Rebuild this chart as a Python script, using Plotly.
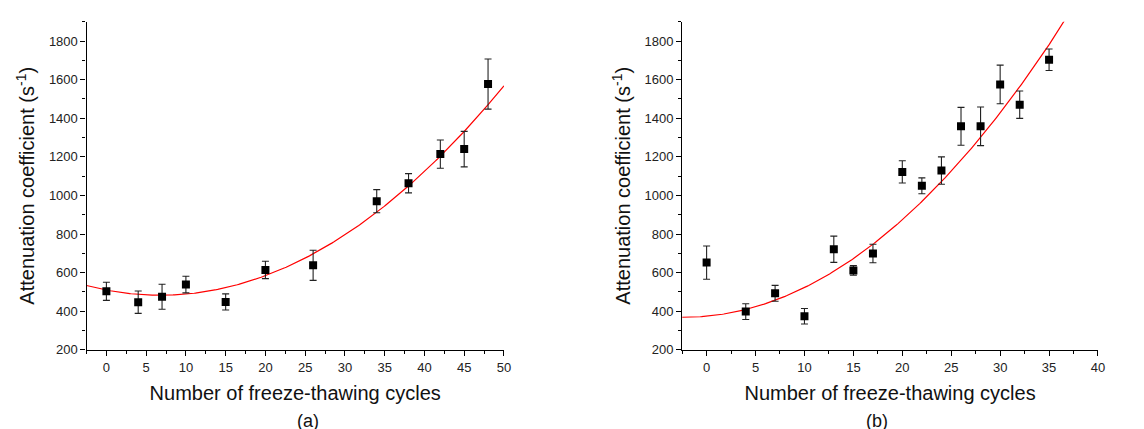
import numpy as np
import plotly.graph_objects as go
from plotly.subplots import make_subplots

# (a)
cycles_a = [0, 4, 7, 10, 15, 20, 26, 34, 38, 42, 45, 48]
atten_a = [503, 447, 475, 538, 448, 614, 638, 970, 1063, 1214, 1240, 1577]
err_a = [47, 58, 65, 43, 42, 45, 78, 60, 50, 73, 92, 130]
fit_a = [0.5816, -7.91, 509.6]   # quadratic fit (x^2, x, 1)

# (b)
cycles_b = [0, 4, 7, 10, 13, 15, 17, 20, 22, 24, 26, 28, 30, 32, 35]
atten_b = [652, 398, 493, 374, 721, 611, 699, 1122, 1050, 1129, 1358, 1358, 1575, 1470, 1703]
err_b = [86, 41, 41, 40, 68, 25, 48, 58, 41, 71, 98, 100, 100, 71, 56]
fit_b = [1.0144, 4.70, 374.0]

W, H = 1144, 429
fig = make_subplots(rows=1, cols=2)

font = "Liberation Sans, Arial, sans-serif"


def add_panel(col, xs, ys, es, coef, xmax):
    fx = np.linspace(-2.5, xmax, 300)
    fig.add_trace(go.Scatter(x=fx, y=np.polyval(coef, fx), mode="lines",
                             line=dict(color="red", width=1.2), showlegend=False),
                  row=1, col=col)
    fig.add_trace(go.Scatter(x=xs, y=ys, mode="markers",
                             marker=dict(symbol="square", size=8, color="black"),
                             error_y=dict(type="data", array=es, color="#222", thickness=1.1, width=3.5),
                             showlegend=False),
                  row=1, col=col)


add_panel(1, cycles_a, atten_a, err_a, fit_a, 50)
add_panel(2, cycles_b, atten_b, err_b, fit_b, 40)

axis_common = dict(
    showline=True, linecolor="black", linewidth=1.2, showgrid=False, zeroline=False,
    ticks="outside", ticklen=5, tickcolor="black", tickwidth=1,
    tickfont=dict(family=font, size=13, color="#222"),
)
xminor = dict(ticks="outside", ticklen=3, tickcolor="black", dtick=2.5)
yminor = dict(ticks="outside", ticklen=3, tickcolor="black", dtick=100)
xtitle = dict(text="Number of freeze-thawing cycles", font=dict(size=20), standoff=12)
ytitle = dict(text="Attenuation coefficient (s<sup>-1</sup>)", font=dict(size=20), standoff=8)

y0, y1 = 1 - 348.3 / H, 1 - 14 / H
fig.update_layout(
    width=W, height=H, margin=dict(l=0, r=0, t=0, b=0),
    paper_bgcolor="white", plot_bgcolor="white",
    font=dict(family=font, color="#111"),
    xaxis=dict(axis_common, domain=[79 / W, 499 / W], range=[-2.5, 50], dtick=5,
               minor=xminor, title=xtitle),
    xaxis2=dict(axis_common, domain=[678.3 / W, 1096.7 / W], range=[-2.5, 40], dtick=5,
                minor=xminor, title=xtitle),
    yaxis=dict(axis_common, domain=[y0, y1], range=[200, 1900], tick0=200, dtick=200,
               minor=yminor, title=ytitle),
    yaxis2=dict(axis_common, domain=[y0, y1], range=[200, 1900], tick0=200, dtick=200,
                minor=yminor, title=ytitle),
)

for label, xc in [("(a)", 289 / W), ("(b)", 887 / W)]:
    fig.add_annotation(text=label, x=xc, y=1 - 421 / H, xref="paper", yref="paper",
                       yanchor="middle", showarrow=False,
                       font=dict(family=font, size=18, color="#111"))

fig.write_html("out.html")
